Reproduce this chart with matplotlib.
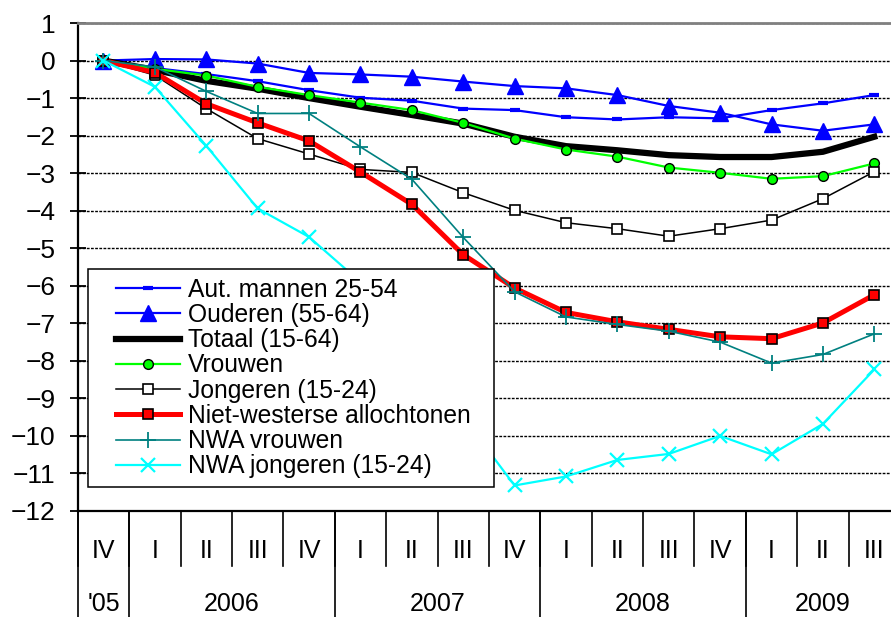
#Employment change per group, quarters IV 2005 - III 2009
import matplotlib
matplotlib.use("Agg")
import matplotlib.pyplot as plt
from matplotlib.lines import Line2D
from matplotlib.legend_handler import HandlerLine2D

plt.rcParams['font.family'] = ['Liberation Sans', 'DejaVu Sans']

quarters = ['IV', 'I', 'II', 'III', 'IV', 'I', 'II', 'III', 'IV',
            'I', 'II', 'III', 'IV', 'I', 'II', 'III']
years = ["'05", '2006', '2007', '2008', '2009']
# number of quarters that belong to each year label
year_quarters = [1, 4, 4, 4, 3]

aut_mannen = [0, -0.20, -0.36, -0.55, -0.79, -0.99, -1.07, -1.28,
              -1.32, -1.51, -1.57, -1.51, -1.54, -1.32, -1.14, -0.92]
ouderen = [0, 0.04, 0.03, -0.08, -0.33, -0.37, -0.43, -0.56,
           -0.68, -0.74, -0.92, -1.21, -1.39, -1.70, -1.87, -1.70]
totaal = [0, -0.25, -0.54, -0.75, -1.00, -1.23, -1.45, -1.68,
          -2.03, -2.28, -2.39, -2.52, -2.57, -2.57, -2.43, -2.03]
vrouwen = [0, -0.22, -0.40, -0.70, -0.92, -1.12, -1.32, -1.66,
           -2.08, -2.37, -2.56, -2.85, -2.99, -3.15, -3.08, -2.74]
jongeren = [0, -0.39, -1.28, -2.08, -2.49, -2.90, -2.98, -3.52,
            -3.99, -4.32, -4.48, -4.68, -4.48, -4.25, -3.68, -2.96]
nwa = [0, -0.32, -1.15, -1.66, -2.14, -2.97, -3.83, -5.17,
       -6.06, -6.71, -6.96, -7.16, -7.36, -7.41, -6.99, -6.24]
nwa_vrouwen = [0, -0.17, -0.82, -1.41, -1.41, -2.30, -3.16, -4.71,
               -6.16, -6.83, -7.03, -7.21, -7.50, -8.06, -7.83, -7.28]
nwa_jongeren = [0, -0.70, -2.27, -3.94, -4.70, -5.90, -7.60, -9.50,
                -11.32, -11.08, -10.64, -10.48, -10.00, -10.49, -9.68, -8.23]

x = list(range(len(quarters)))

fig = plt.figure(figsize=(8.91, 6.17), dpi=100)
# plot area runs a bit past the right edge of the picture, like the original
ax = fig.add_axes([0.0873, 0.1718, 0.9228, 0.7909])

ax.plot(x, aut_mannen, color='#0000ff', lw=1.6, marker='_', ms=7, mew=3,
        label='Aut. mannen 25-54')
ax.plot(x, ouderen, color='#0000ff', lw=1.6, marker='^', ms=11,
        mfc='#0000ff', mec='#0000ff', label='Ouderen (55-64)')
ax.plot(x, totaal, color='black', lw=4.5, label='Totaal (15-64)')
ax.plot(x, vrouwen, color='#00ff00', lw=1.6, marker='o', ms=7,
        mfc='#00ff00', mec='black', mew=1, label='Vrouwen')
ax.plot(x, jongeren, color='black', lw=1.1, marker='s', ms=7,
        mfc='white', mec='black', mew=1.2, label='Jongeren (15-24)')
ax.plot(x, nwa, color='#ff0000', lw=3.6, marker='s', ms=7,
        mfc='#ff0000', mec='black', mew=1.2, label='Niet-westerse allochtonen')
ax.plot(x, nwa_vrouwen, color='#008080', lw=1.2, marker='+', ms=11, mew=1.3,
        label='NWA vrouwen')
ax.plot(x, nwa_jongeren, color='#00ffff', lw=1.6, marker='x', ms=10, mew=1.6,
        label='NWA jongeren (15-24)')

ax.set_xlim(-0.5, len(quarters) - 0.5)
ax.set_ylim(-12, 1)
ax.set_yticks(range(-12, 2))
ax.set_xticks([])
ax.tick_params(axis='y', direction='inout', length=12, width=1.3,
               labelsize=19, pad=10)

# dashed gridlines
ax.set_axisbelow(True)
ax.yaxis.grid(True, color='black', linestyle=(0, (2, 1)), lw=1)

ax.spines['left'].set_linewidth(1.6)
ax.spines['bottom'].set_linewidth(1.6)
ax.spines['top'].set_color('#808080')
ax.spines['top'].set_linewidth(2)
ax.spines['right'].set_visible(False)

# two-level category axis below the plot
trans = ax.get_xaxis_transform()
for i, q in enumerate(quarters):
    ax.text(i, -0.082, q, transform=trans, ha='center', va='center',
            fontsize=18)
    ax.plot([i - 0.5, i - 0.5], [0, -0.1127], transform=trans,
            color='black', lw=1.2, clip_on=False)

start = 0
for yr, n in zip(years, year_quarters):
    ax.text(start + n / 2 - 0.5, -0.19, yr, transform=trans,
            ha='center', va='center', fontsize=18)
    ax.plot([start - 0.5, start - 0.5], [0, -0.25], transform=trans,
            color='black', lw=1.2, clip_on=False)
    start += n

# legend box: left-aligned entries, box stretched to the original width
leg = ax.legend(loc='lower left', mode='expand',
                bbox_to_anchor=(88 / 891, 130 / 617, 406 / 891, 0.05),
                bbox_transform=fig.transFigure, fontsize=17.7,
                fancybox=False, framealpha=1, edgecolor='black',
                borderpad=0.35, borderaxespad=0, handlelength=3.4,
                handletextpad=0.33, labelspacing=0.05,
                handler_map={Line2D: HandlerLine2D(xpad=0.8)})
leg.get_frame().set_linewidth(1.1)

plt.savefig('out.png', dpi=100)
